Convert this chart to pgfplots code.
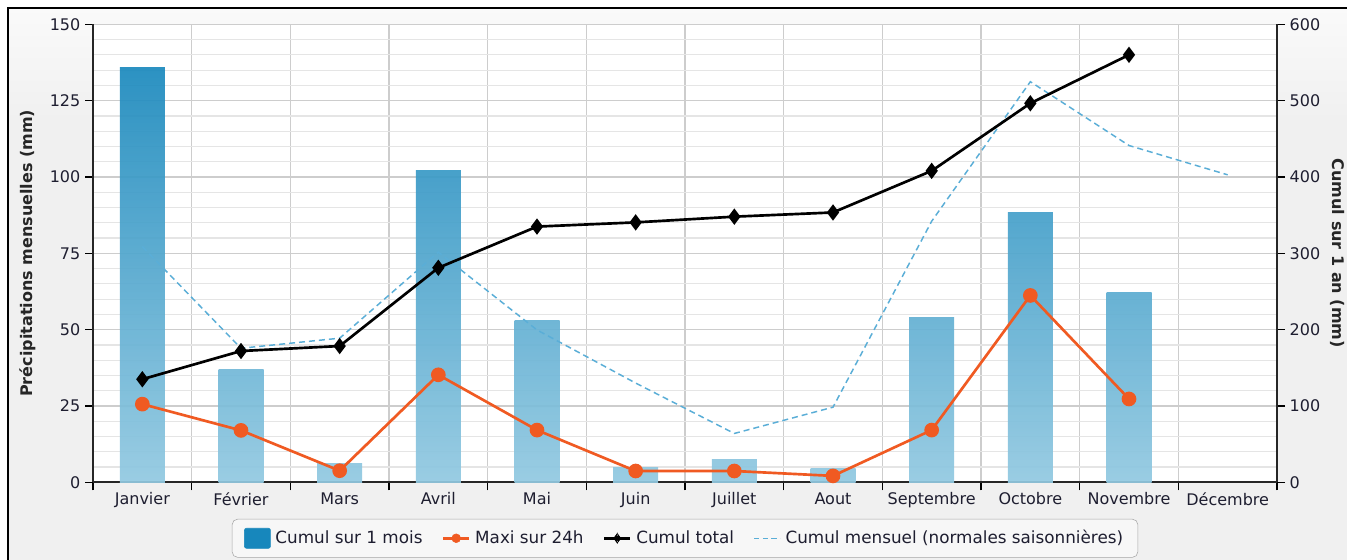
\documentclass[border=0pt]{standalone}
\usepackage{fontspec}
\setmainfont{DejaVu Sans}
\usepackage{pgfplots}
\pgfplotsset{compat=1.18}

\definecolor{bDark}{HTML}{1787BC}
\definecolor{bLight}{HTML}{92C9E1}
\definecolor{orangeL}{HTML}{F05A22}
\definecolor{normL}{HTML}{5AAED7}
\definecolor{gridMaj}{HTML}{CDCDCD}
\definecolor{gridMin}{HTML}{E5E5E5}
\definecolor{bgGray}{HTML}{F0F0F0}
\definecolor{txt}{HTML}{1E1E30}

\def\px{0.75pt}
\newcommand{\tf}{\fontsize{12}{14.4}\selectfont}
\newcommand{\lf}{\fontsize{12.6}{15}\selectfont}

% one bar per call: the top colour depends on the height, like the original gradient
\newcommand{\mbar}[2]{%
  \pgfmathsetmacro{\shadepct}{min(100,#2/140*100)}%
  \edef\tmpbar{\noexpand\addplot[ybar, bar shift=0pt, bar width=33.75pt, draw=none,
    fill opacity=0.92, forget plot, top color=bDark!\shadepct!bLight,
    bottom color=bLight] coordinates {(#1,#2)};}%
  \tmpbar}

\begin{document}
\begin{tikzpicture}[font=\tf]
\useasboundingbox (0,0) rectangle (1347*\px,-560*\px);
\clip (0,0) rectangle (1347*\px,-560*\px);
\fill[white] (0,0) rectangle (1347*\px,-560*\px);
\shade[top color=gray!4, bottom color=bgGray] (8*\px,-8*\px) rectangle (1350*\px,-120*\px);
\fill[bgGray] (8*\px,-120*\px) rectangle (1350*\px,-565*\px);
\draw[black, line width=1.6pt] (8*\px,-565*\px) -- (8*\px,-8*\px) -- (1350*\px,-8*\px);

\begin{axis}[
    at={(93*\px,-482.3*\px)}, anchor=south west,
    scale only axis, width=888pt, height=343.5pt,
    xmin=-0.5, xmax=11.5, ymin=0, ymax=150,
    axis x line*=bottom, axis y line*=left,
    axis line style={line width=1.5pt, black!85},
    axis background/.style={fill=white},
    xtick={-0.5,0.5,...,11.5}, xticklabels={},
    extra x ticks={0,1,...,11},
    extra x tick labels={Janvier,Février,Mars,Avril,Mai,Juin,Juillet,Aout,Septembre,Octobre,Novembre,Décembre},
    extra x tick style={grid=none, major tick length=0pt,
      tick label style={yshift=-4pt}},
    ytick={0,25,...,150}, minor y tick num=4,
    xmajorgrids, ymajorgrids, yminorgrids,
    major grid style={draw=gridMaj, line width=0.9pt},
    minor grid style={draw=gridMin, line width=0.9pt},
    tick align=outside, major tick length=6pt, minor tick length=0pt,
    tick style={line width=1pt, black},
    tick label style={font=\tf, text=txt},
    /pgf/number format/assume math mode=true,
    ylabel={Précipitations mensuelles (mm)},
    ylabel style={at={(axis description cs:-0.055,0.5)}, anchor=center,
      font=\tf\bfseries, text=black!85},
    legend style={at={(0.5,-0.080)}, anchor=north, legend columns=4,
      draw=gray!70, fill=gray!6, rounded corners=4pt, font=\lf, text=txt,
      inner xsep=9pt, inner ysep=6.5pt,
      /tikz/every odd column/.append style={column sep=1.5pt},
      /tikz/every even column/.append style={column sep=12.5pt}},
    legend cell align=left,
  ]
  \mbar{0}{136}
  \mbar{1}{37}
  \mbar{2}{6}
  \mbar{3}{102}
  \mbar{4}{53}
  \mbar{5}{5}
  \mbar{6}{7.5}
  \mbar{7}{4.5}
  \mbar{8}{54}
  \mbar{9}{88.5}
  \mbar{10}{62}

  \addplot[orangeL, line width=2pt, mark=*, mark size=4.5pt, forget plot] coordinates {
    (0,25.6) (1,17) (2,3.8) (3,35.2) (4,17.1) (5,3.7) (6,3.7) (7,2.1)
    (8,17.1) (9,61.2) (10,27.3)};

  \addplot[normL, line width=1.1pt, dash pattern=on 4.5pt off 3pt, forget plot] coordinates {
    (0,77.2) (1,43.9) (2,47.2) (3,75.4) (4,49.9) (5,32.5) (6,16.0) (7,24.6)
    (8,85.5) (9,131.2) (10,110.3) (11,100.7)};

  \addlegendimage{legend image code/.code={\fill[bDark, rounded corners=1.5pt] (0pt,-7.5pt) rectangle (19.5pt,7.5pt);}}
  \addlegendentry{Cumul sur 1 mois}
  \addlegendimage{legend image code/.code={%
    \draw[orangeL, line width=2pt] (0pt,0pt) -- (19.5pt,0pt);
    \fill[orangeL] (9.75pt,0pt) circle (3.3pt);}}
  \addlegendentry{Maxi sur 24h}
  \addlegendimage{legend image code/.code={%
    \draw[black, line width=2pt] (0pt,0pt) -- (19.5pt,0pt);
    \fill[black] (9.75pt,3.6pt) -- (12.4pt,0pt) -- (9.75pt,-3.6pt) -- (7.1pt,0pt) -- cycle;}}
  \addlegendentry{Cumul total}
  \addlegendimage{legend image code/.code={%
    \draw[normL, line width=1.1pt, dash pattern=on 4pt off 2.5pt] (0pt,0pt) -- (19.5pt,0pt);}}
  \addlegendentry{Cumul mensuel (normales saisonnières)}
\end{axis}

\begin{axis}[
    at={(93*\px,-482.3*\px)}, anchor=south west,
    scale only axis, width=888pt, height=343.5pt,
    xmin=-0.5, xmax=11.5, ymin=0, ymax=600,
    axis y line*=right, axis x line=none,
    axis line style={line width=1.5pt, black!85},
    ytick={0,100,...,600},
    tick align=outside, major tick length=6pt,
    tick style={line width=1pt, black},
    tick label style={font=\tf, text=txt},
    /pgf/number format/assume math mode=true,
    ylabel={Cumul sur 1 an (mm)},
    ylabel style={at={(axis description cs:1.0515,0.5)}, anchor=center, rotate=180,
      font=\tf\bfseries, text=black!85},
  ]
  \addplot[black, line width=2pt, mark=diamond*, mark size=4.5pt] coordinates {
    (0,135) (1,172) (2,178.5) (3,281) (4,335) (5,340.5) (6,348) (7,353.5)
    (8,408) (9,496.5) (10,560)};
\end{axis}
\end{tikzpicture}
\end{document}
